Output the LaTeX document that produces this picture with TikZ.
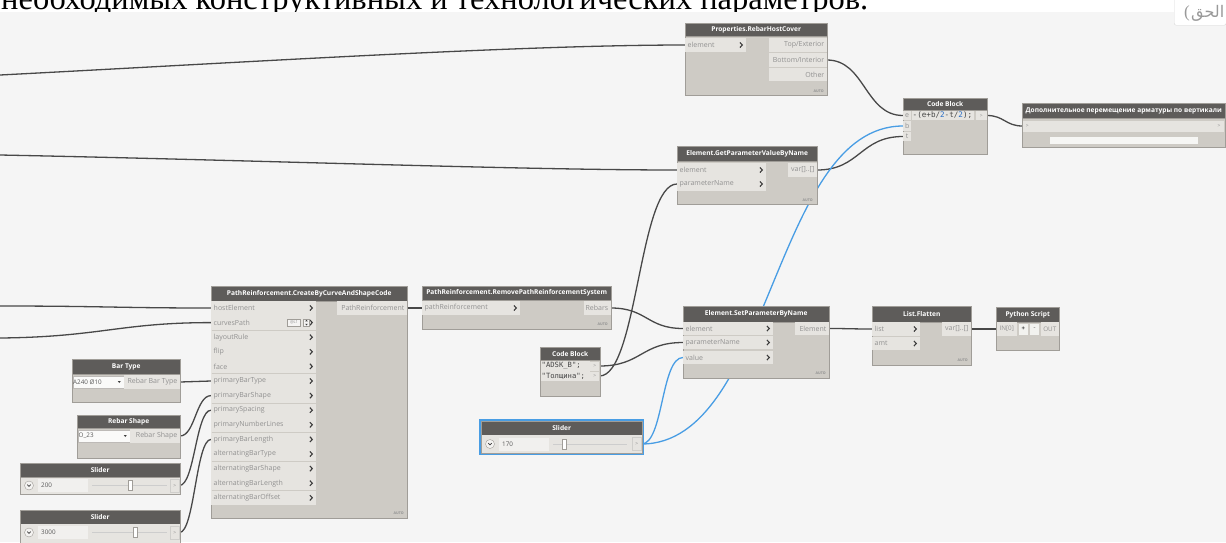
\documentclass[tikz,border=0pt]{standalone}
\usepackage{fontspec}
\setmainfont{Liberation Serif}
\newfontfamily\uifont{Open Sans}
\newfontfamily\codefont{DejaVu Sans Mono}
\newfontfamily\arabicfont[Script=Arabic]{DejaVu Sans}
\TeXXeTstate=1
\usetikzlibrary{calc}
\pgfdeclarelayer{bg}
\pgfdeclarelayer{wires}
\pgfsetlayers{bg,wires,main}

\definecolor{canvasc}{RGB}{245,245,245}
\definecolor{headc}{RGB}{94,92,90}
\definecolor{bodyc}{RGB}{206,203,197}
\definecolor{rowc}{RGB}{230,228,224}
\definecolor{edgec}{RGB}{160,157,152}
\definecolor{labc}{RGB}{145,145,145}
\definecolor{chevc}{RGB}{60,60,60}
\definecolor{wirec}{RGB}{72,72,72}
\definecolor{bluec}{RGB}{72,157,228}
\definecolor{codec}{RGB}{70,70,70}
\definecolor{numc}{RGB}{40,110,200}
\definecolor{valc}{RGB}{90,90,90}
\definecolor{trackc}{RGB}{205,205,205}

\tikzset{
  dhead/.style={anchor=north west, fill=headc, draw=edgec, line width=0.4pt, inner sep=0pt,
    text=white, font=\uifont\bfseries\fontsize{6.6}{7}\selectfont},
  dbody/.style={anchor=north west, fill=bodyc, draw=edgec, line width=0.4pt, inner sep=0pt},
  prow/.style={anchor=west, fill=rowc, inner sep=0pt, minimum height=13.4pt},
  plab/.style={inner sep=0pt, text=labc, font=\uifont\fontsize{7}{8}\selectfont},
  tinylab/.style={inner sep=0pt, text=labc, font=\uifont\fontsize{5}{5}\selectfont},
  chev/.style={draw=chevc, line width=1.1pt},
  autolab/.style={inner sep=0pt, text=labc, font=\uifont\bfseries\fontsize{3.6}{4}\selectfont, anchor=south east},
  wire/.style={draw=wirec, line width=1.3pt},
  bwire/.style={draw=bluec, line width=1.3pt},
  codetxt/.style={inner sep=0pt, anchor=west, text=codec, font=\codefont\fontsize{7.6}{8}\selectfont},
  sepline/.style={draw=bodyc, line width=0.8pt},
  ddbox/.style={anchor=west, fill=white!80!rowc, draw=edgec!70, line width=0.3pt, inner sep=0pt, minimum height=12pt},
  ddtxt/.style={inner sep=0pt, anchor=west, text=valc, font=\uifont\fontsize{6.3}{7}\selectfont},
}

% header + body of a node: name, x, y, width, header height, body height, title
\newcommand{\dynnode}[7]{%
  \node[dhead, minimum width=#4pt, minimum height=#5pt] (#1) at (#2,#3) {#7};
  \node[dbody, minimum width=#4pt, minimum height=#6pt] (#1-body) at (#1.south west) {};
}
% input port row: [height] name, x, y, width, label
\newcommand{\inport}[6][13.4]{%
  \node[prow, minimum width=#5pt, minimum height=#1pt] (#2) at (#3,#4) {};
  \node[plab, anchor=west] (#2-l) at ([xshift=2.5pt]#2.west) {#6};
  \draw[chev] ([xshift=-6.5pt,yshift=2.6pt]#2.east) -- ++(2.4pt,-2.6pt) -- ++(-2.4pt,-2.6pt);
}
% output port row: name, right x, y, width, label
\newcommand{\outport}[5]{%
  \node[prow, anchor=east, minimum width=#4pt] (#1) at (#2,#3) {};
  \node[plab, anchor=east] (#1-l) at ([xshift=-2.5pt]#1.east) {#5};
}
\newcommand{\autotag}[3]{\node[autolab] (#1) at (#2,#3) {AUTO};}
% one-letter port of a code block
\newcommand{\letterport}[4]{%
  \node[prow, minimum width=8pt, minimum height=9.8pt] (#1) at (#2,#3) {};
  \node[plab] (#1-l) at (#1.center) {#4};
}
% slider row: name, x, row y, width, value, thumb x, track start, track end
\newcommand{\sliderrow}[8]{%
  \fill[rowc] ([xshift=0.5pt,yshift=-0.5pt]#1-body.north west) rectangle ([xshift=-0.5pt,yshift=0.5pt]#1-body.south east);
  \node[circle, fill=white!55!rowc, draw=edgec, line width=0.4pt, minimum size=9pt, inner sep=0pt] (#1-btn) at (#2+9,#3) {};
  \draw[chevc, line width=0.7pt] ([xshift=-1.8pt,yshift=0.9pt]#1-btn.center) -- ++(1.8pt,-1.8pt) -- ++(1.8pt,1.8pt);
  \node[prow, fill=white!45!rowc, minimum width=50pt, minimum height=13pt] (#1-val) at (#2+18,#3) {};
  \node[plab, text=valc, anchor=west, font=\uifont\fontsize{6.3}{7}\selectfont] (#1-num) at (#2+21,#3) {#5};
  \draw[trackc, line width=0.9pt] (#7,#3) -- (#8,#3);
  \node[fill=white, draw=edgec, line width=0.4pt, minimum width=4pt, minimum height=10pt, inner sep=0pt] (#1-thumb) at (#6,#3) {};
  \node[prow, anchor=east, minimum width=9pt, minimum height=13pt, draw=edgec!50, line width=0.3pt] (#1-out) at (#2+#4-0.5,#3) {};
  \node[tinylab] (#1-outl) at (#1-out.center) {>};
}

\begin{document}
\begin{tikzpicture}[x=1pt,y=-1pt]
\useasboundingbox (0,0) rectangle (1226,542);

\begin{pgfonlayer}{bg}
  \fill[white] (0,0) rectangle (1226,542);
  \node[anchor=base west, inner sep=0pt, font=\fontsize{32.5}{32.5}\selectfont] (caption) at (1,9)
    {необходимых конструктивных и технологических параметров.};
  \fill[canvasc] (0,12) rectangle (1226,542);
  \node[anchor=north west, fill=white, draw=black!15, rounded corners=2pt, minimum width=52pt,
        minimum height=29pt, inner sep=0pt] (corner) at (1174,-4) {};
  \node[anchor=base west, inner sep=0pt, text=black!40, font=\fontsize{17}{17}\selectfont]
    (corner-p) at (1184,17) {(};
  \node[anchor=base west, inner sep=0pt, text=black!40, font=\arabicfont\fontsize{16}{16}\selectfont]
    (corner-t) at (1191,17) {\beginR الحق\endR};
\end{pgfonlayer}

% ---------- nodes ----------
% Properties.RebarHostCover
\dynnode{prop}{685}{23}{142}{13}{59}{Properties.RebarHostCover}
\inport{prop-el}{685}{45}{61}{element}
\outport{prop-top}{827}{45}{58}{Top/Exterior}
\outport{prop-bot}{827}{60}{58}{Bottom/Interior}
\outport{prop-oth}{827}{74.5}{58}{Other}
\autotag{prop-auto}{824}{93}

% Code Block (upper)
\dynnode{cb1}{903}{98}{84}{12}{44}{Code Block}
\letterport{cb1-e}{903}{115.5}{e}
\letterport{cb1-b}{903}{126}{b}
\letterport{cb1-t}{903}{136.5}{t}
\node[prow, minimum width=62pt, minimum height=9.8pt] (cb1-code) at (912,115.5) {};
\node[codetxt] (cb1-txt) at (912.5,115.5) {-(e+b/\textcolor{numc}{2}-t/\textcolor{numc}{2});};
\node[prow, anchor=east, minimum width=11pt, minimum height=9.8pt] (cb1-out) at (987,115.5) {};
\node[tinylab] (cb1-outl) at (cb1-out.center) {>};

% Watch
\dynnode{watch}{1022}{103}{203}{15}{29}{Дополнительное перемещение арматуры по вертикали}
\node[prow, minimum width=201pt, minimum height=11pt] (watch-row) at (1023,126) {};
\node[prow, minimum width=9pt, minimum height=11pt] (watch-in) at (1022.5,126) {};
\node[tinylab] (watch-inl) at (watch-in.center) {>};
\node[tinylab] (watch-rl) at (1219,126) {>};
\node[anchor=west, fill=white!65!rowc, minimum width=148pt, minimum height=7pt, inner sep=0pt] (watch-bar) at (1050,140.5) {};

% Element.GetParameterValueByName
\dynnode{gp}{677}{146}{140}{15}{43}{Element.GetParameterValueByName}
\inport{gp-el}{677}{170}{89}{element}
\inport{gp-pn}{677}{184}{89}{parameterName}
\outport{gp-out}{817}{170}{29}{var[]..[]}
\autotag{gp-auto}{813}{202}

% PathReinforcement.CreateByCurveAndShapeCode
\dynnode{pc}{211}{286}{196}{15}{217}{PathReinforcement.CreateByCurveAndShapeCode}
\inport[14.6]{pc-r1}{211}{308}{105}{hostElement}
\inport[14.6]{pc-r2}{211}{322.6}{105}{curvesPath}
\inport[14.6]{pc-r3}{211}{337.2}{105}{layoutRule}
\inport[14.6]{pc-r4}{211}{351.8}{105}{flip}
\inport[14.6]{pc-r5}{211}{366.4}{105}{face}
\inport[14.6]{pc-r6}{211}{381}{105}{primaryBarType}
\inport[14.6]{pc-r7}{211}{395.6}{105}{primaryBarShape}
\inport[14.6]{pc-r8}{211}{410.2}{105}{primarySpacing}
\inport[14.6]{pc-r9}{211}{424.8}{105}{primaryNumberLines}
\inport[14.6]{pc-r10}{211}{439.4}{105}{primaryBarLength}
\inport[14.6]{pc-r11}{211}{454}{105}{alternatingBarType}
\inport[14.6]{pc-r12}{211}{468.6}{105}{alternatingBarShape}
\inport[14.6]{pc-r13}{211}{483.2}{105}{alternatingBarLength}
\inport[14.6]{pc-r14}{211}{497.8}{105}{alternatingBarOffset}
\foreach \yy in {329.9,373.7,402.9,432.1,461.3,490.5}
  \draw[sepline] (211.5,\yy) -- (315.5,\yy);
\node[fill=white!60!rowc, draw=edgec, line width=0.3pt, minimum width=13pt, minimum height=7pt,
      inner sep=0pt, text=labc, font=\uifont\fontsize{4}{4}\selectfont] (pc-lvl) at (294,322.6) {@L1};
\node[fill=white!60!rowc, draw=edgec, line width=0.3pt, minimum width=6pt, minimum height=7pt,
      inner sep=0pt] (pc-spin) at (306.5,322.6) {};
\fill[chevc] ([yshift=2.8pt]pc-spin.center) -- ++(-1.3pt,-1.6pt) -- ++(2.6pt,0pt) -- cycle;
\fill[chevc] ([yshift=-2.8pt]pc-spin.center) -- ++(-1.3pt,1.6pt) -- ++(2.6pt,0pt) -- cycle;
\outport{pc-out}{407}{308}{70}{PathReinforcement}
\autotag{pc-auto}{404}{515}

% PathReinforcement.RemovePathReinforcementSystem
\dynnode{rp}{422}{286}{189}{14}{29}{PathReinforcement.RemovePathReinforcementSystem}
\inport{rp-in}{422}{308}{98}{pathReinforcement}
\outport{rp-out}{611}{308}{27}{Rebars}
\autotag{rp-auto}{608}{326}

% Element.SetParameterByName
\dynnode{sp}{683}{306}{146}{16}{56}{Element.SetParameterByName}
\inport{sp-el}{683}{328.5}{90}{element}
\inport{sp-pn}{683}{342.5}{90}{parameterName}
\inport{sp-val}{683}{357.5}{90}{value}
\outport{sp-out}{829}{328.5}{34}{Element}
\autotag{sp-auto}{826}{375}

% Code Block (lower)
\dynnode{cb2}{540}{347}{60}{13}{36}{Code Block}
\node[prow, minimum width=49pt, minimum height=20pt] (cb2-code) at (540.5,371) {};
\node[codetxt, font=\codefont\fontsize{7.2}{8}\selectfont] (cb2-l1) at (541.5,366) {"ADSK\_B";};
\node[codetxt, font=\codefont\fontsize{7.2}{8}\selectfont] (cb2-l2) at (541.5,376) {"Толщина";};
\node[prow, anchor=east, minimum width=9pt, minimum height=9pt] (cb2-o1) at (599.5,366) {};
\node[tinylab] (cb2-o1l) at (cb2-o1.center) {>};
\node[prow, anchor=east, minimum width=9pt, minimum height=9pt] (cb2-o2) at (599.5,376) {};
\node[tinylab] (cb2-o2l) at (cb2-o2.center) {>};

% List.Flatten
\dynnode{lf}{872}{306}{99}{16}{43}{List.Flatten}
\inport{lf-list}{872}{329}{48}{list}
\inport{lf-amt}{872}{343.5}{48}{amt}
\outport{lf-out}{971}{329}{29}{var[]..[]}
\autotag{lf-auto}{968}{362}

% Python Script
\dynnode{py}{996}{307}{63}{15}{28}{Python Script}
\node[prow, minimum width=20pt] (py-in) at (996.5,329) {};
\node[plab, font=\uifont\fontsize{6.3}{7}\selectfont] (py-inl) at (py-in.center) {IN[0]};
\node[prow, fill=white!50!rowc, minimum width=9pt, minimum height=11pt] (py-plus) at (1018.5,329) {};
\node[plab, text=chevc, font=\uifont\bfseries\fontsize{6}{6}\selectfont] (py-plusl) at (py-plus.center) {+};
\node[prow, fill=white!50!rowc, minimum width=9pt, minimum height=11pt] (py-minus) at (1030,329) {};
\node[plab, font=\uifont\bfseries\fontsize{6}{6}\selectfont] (py-minusl) at (py-minus.center) {-};
\node[prow, anchor=east, minimum width=18pt] (py-out) at (1059,329) {};
\node[plab, font=\uifont\fontsize{6.3}{7}\selectfont] (py-outl) at (py-out.center) {OUT};

% Bar Type
\dynnode{bt}{72}{359}{108}{15}{28}{Bar Type}
\node[ddbox, minimum width=51pt] (bt-dd) at (72.5,382) {};
\node[ddtxt] (bt-ddt) at (73,382) {A240 Ø10};
\fill[chevc] ([xshift=-6pt,yshift=1pt]bt-dd.east) -- ++(3pt,0pt) -- ++(-1.5pt,-2pt) -- cycle;
\outport{bt-out}{180}{382}{56}{Rebar Bar Type}

% Rebar Shape
\dynnode{rs}{77}{415}{103}{13}{30}{Rebar Shape}
\node[ddbox, minimum width=52pt] (rs-dd) at (77.5,436) {};
\node[ddtxt] (rs-ddt) at (78.5,436) {O\_23};
\fill[chevc] ([xshift=-6pt,yshift=1pt]rs-dd.east) -- ++(3pt,0pt) -- ++(-1.5pt,-2pt) -- cycle;
\outport{rs-out}{180}{436}{50}{Rebar Shape}

% Sliders
\dynnode{s1}{20}{463}{160}{14}{16.5}{Slider}
\sliderrow{s1}{20}{485.5}{160}{200}{130}{92}{167}
\dynnode{s2}{20}{510}{160}{13.5}{19}{Slider}
\sliderrow{s2}{20}{532.5}{160}{3000}{135}{92}{167}
\dynnode{s3}{481}{421}{161}{13.5}{18.5}{Slider}
\sliderrow{s3}{481}{444}{161}{170}{564.5}{553}{627}
\draw[bluec, line width=1.1pt] ([xshift=-1pt,yshift=1pt]s3.north west) rectangle ([xshift=1pt,yshift=-1pt]s3-body.south east);

% ---------- connectors ----------
\coordinate (src1) at (0,75);
\coordinate (src2) at (0,155);
\coordinate (src3) at (0,306);
\coordinate (src4) at (0,338);

\newcommand{\conn}[4][wire]{\draw[#1] (#2.east) .. controls +(#4pt,0pt) and +(-#4pt,0pt) .. (#3.west);}

\begin{pgfonlayer}{wires}
  \draw[wire] (src1) .. controls (250,62) and (520,45) .. (prop-el.west);
  \draw[wire] (src2) .. controls (250,160) and (520,170) .. (gp-el.west);
  \draw[wire] (src3) .. controls (100,306) and (120,308) .. (pc-r1.west);
  \draw[wire] (src4) .. controls (100,337) and (120,322.6) .. (pc-r2.west);
  \conn{prop-bot}{cb1-e}{38}
  \conn{gp-out}{cb1-t}{43}
  \conn[bwire]{s3-out}{cb1-b}{130}
  \conn[bwire]{s3-out}{sp-val}{22}
  \conn{cb1-out}{watch-in}{17}
  \conn{pc-out}{rp-in}{8}
  \conn{rp-out}{sp-el}{36}
  \conn{cb2-o1}{sp-pn}{42}
  \conn{cb2-o2}{gp-pn}{38}
  \conn{sp-out}{lf-list}{20}
  \conn{lf-out}{py-in}{12}
  \conn{bt-out}{pc-r6}{15}
  \conn{rs-out}{pc-r7}{15}
  \conn{s1-out}{pc-r8}{15}
  \conn{s2-out}{pc-r10}{15}
\end{pgfonlayer}
\end{tikzpicture}
\end{document}
